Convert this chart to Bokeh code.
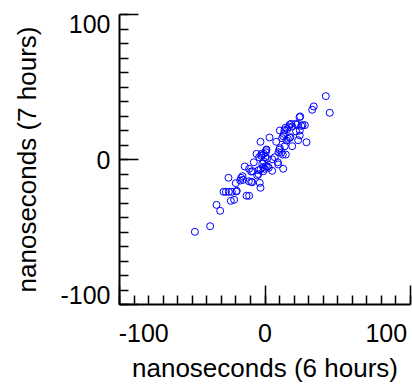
from bokeh.plotting import figure
from bokeh.models import Range1d, FixedTicker, LinearAxis, ColumnDataSource
from bokeh.embed import file_html
from bokeh.resources import INLINE

# data (nanoseconds)
x6h = [-48.2, -37.7, -33.3, -30.8, -25.1, -28.5, -24.9, -22.8, -23.5, -21.2,
       -20.1, -19.4, -19.8, -17.0, -16.4, -15.5, -13.9, -12.7, -10.9, -11.1,
       -9.5, -8.8, -10.9, -9.5, -8.4, -7.7, -5.8, -5.4, -4.5, -4.5,
       -3.1, -3.6, -3.1, -3.1, -4.0, -2.6, -2.4, -1.9, -1.2, -0.8,
       -1.2, -0.3, 0.6, -0.8, 0.6, 0.8, 1.0, 0.1, 1.5, 1.9,
       2.6, 3.1, 4.9, 4.9, 6.7, 7.7, 8.8, 9.1, 9.3, 9.8,
       10.2, 10.2, 11.3, 12.2, 12.5, 11.8, 12.5, 12.9, 13.4, 14.1,
       13.6, 14.3, 14.8, 15.7, 15.3, 16.4, 17.0, 17.5, 17.0, 18.7,
       18.7, 21.0, 21.4, 22.8, 23.7, 24.2, 23.9, 24.9, 25.8, 27.4,
       28.5, 32.4, 33.5, 41.8, 44.5, 18.0, 22.1, 23.9, -26.9, -15.0]
y7h = [-49.9, -46.0, -31.3, -35.4, -12.6, -22.3, -22.3, -22.3, -28.5, -27.8,
       -16.3, -21.6, -22.1, -14.5, -12.6, -11.5, -4.8, -25.0, -25.0, -15.0,
       -15.4, -15.7, -6.4, -8.3, -8.1, -1.9, 3.9, -11.0, -10.1, -7.4,
       -6.7, -16.1, -19.5, 12.2, 1.6, 2.6, 3.9, -3.0, -5.3, -1.4,
       -8.1, -6.4, -4.6, 3.9, 5.0, 6.4, 6.9, 1.6, 0.5, -4.8,
       -5.7, 15.2, -7.8, 0.2, 1.6, 12.2, -1.9, -3.4, 5.0, 6.7,
       7.8, 20.0, 4.8, 3.4, -6.4, 14.7, 16.1, 17.7, 20.2, 21.9,
       9.2, 3.4, 13.1, 14.3, 20.9, 22.3, 15.0, 15.4, 24.1, 22.8,
       9.2, 24.6, 19.3, 13.3, 29.2, 29.7, 16.6, 23.2, 23.7, 23.7,
       11.9, 34.3, 36.6, 43.7, 32.2, 24.6, 24.1, 20.0, -22.3, -14.0]

major_ticks = [-100, 0, 100]
minor_ticks = list(range(-100, 101, 10))
tick_labels = ["-100", "0", "100"]
x_title = "nanoseconds (6 hours)"
y_title = "nanoseconds (7 hours)"

FONT = "Liberation Sans"
FS = "25px"
TFS = "26px"

p = figure(width=412, height=387, output_backend="svg", toolbar_location=None,
           x_range=Range1d(-100, 100), y_range=Range1d(-100, 100),
           min_border_left=119, min_border_right=2, min_border_top=14,
           min_border_bottom=83)
p.outline_line_color = None
p.grid.visible = False
p.background_fill_color = "white"
p.border_fill_color = "white"

# tick-mark axes on the data scale (labels hidden)
for ax in (p.xaxis[0], p.yaxis[0]):
    ax.ticker = FixedTicker(ticks=major_ticks, minor_ticks=minor_ticks)
    ax.major_label_text_color = None
    ax.major_label_text_font_size = "1px"
    ax.major_label_standoff = 0
    ax.axis_line_width = 2
    ax.axis_line_color = "black"
    ax.major_tick_in = 19
    ax.major_tick_out = 0
    ax.minor_tick_in = 9
    ax.minor_tick_out = 0
    ax.major_tick_line_width = 1.5
    ax.minor_tick_line_width = 1.5
    ax.major_tick_line_color = "black"
    ax.minor_tick_line_color = "black"

# label axes: end labels are pulled inside the axis span, as in the original
p.extra_x_ranges = {"xlab": Range1d(-120, 120)}
p.extra_y_ranges = {"ylab": Range1d(-107, 107)}
overrides = {t: s for t, s in zip(major_ticks, tick_labels)}

xlab = LinearAxis(x_range_name="xlab", ticker=FixedTicker(ticks=major_ticks),
                  major_label_overrides=overrides, axis_label=x_title)
ylab = LinearAxis(y_range_name="ylab", ticker=FixedTicker(ticks=major_ticks),
                  major_label_overrides=overrides, axis_label=y_title)
for ax, ls, ts in ((xlab, 19, 8), (ylab, 9, 15)):
    ax.axis_line_color = None
    ax.major_tick_line_color = None
    ax.minor_tick_line_color = None
    ax.major_tick_in = 0
    ax.major_tick_out = 0
    ax.minor_tick_in = 0
    ax.minor_tick_out = 0
    ax.major_label_standoff = ls
    ax.major_label_text_font = FONT
    ax.major_label_text_font_size = FS
    ax.major_label_text_color = "black"
    ax.axis_label_standoff = ts
    ax.axis_label_text_font = FONT
    ax.axis_label_text_font_size = TFS
    ax.axis_label_text_font_style = "normal"
    ax.axis_label_text_color = "black"
p.add_layout(xlab, "below")
p.add_layout(ylab, "left")

src = ColumnDataSource(dict(x=x6h, y=y7h))
p.scatter("x", "y", source=src, marker="circle", size=7, fill_color=None,
          line_color="#0000FF", line_width=1)

open("out.html", "w").write(file_html(p, INLINE))
